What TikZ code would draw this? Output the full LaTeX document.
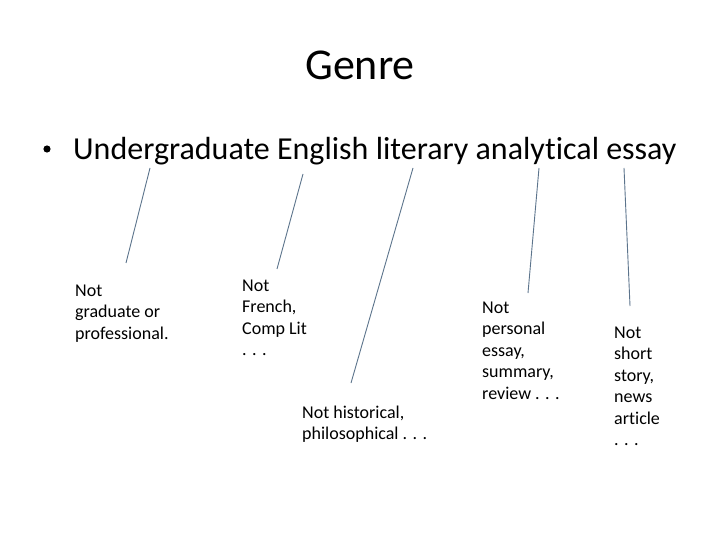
\documentclass[tikz,border=0pt]{standalone}
\usepackage{fontspec}
\setmainfont[Ligatures={NoCommon,NoContextual}]{Carlito}
\definecolor{linkcol}{RGB}{92,116,140}
\begin{document}
\begin{tikzpicture}[x=1pt,y=-1pt,
  conn/.style={draw=linkcol, line width=0.9pt},
  lbl/.style={anchor=north west, inner sep=0pt, align=left,
    font=\fontsize{18}{21.5}\selectfont}]
\useasboundingbox[fill=white] (0,0) rectangle (720,540);
\node[anchor=base, inner sep=0pt, font=\fontsize{44}{50}\selectfont] (title) at (360,80) {Genre};
\node[anchor=base west, inner sep=0pt, font=\fontsize{32}{38}\selectfont] (essay) at (73,160) {Undergraduate English literary analytical essay};
\fill (47,149) circle (3.6pt);
\node[lbl] (a) at (75,284.4) {Not\\graduate or\\professional.};
\node[lbl] (b) at (242,279.4) {Not\\French,\\Comp Lit\\. . .};
\node[lbl] (c) at (302,405.4) {Not historical,\\philosophical . . .};
\node[lbl] (d) at (482,301.4) {Not\\personal\\essay,\\summary,\\review . . .};
\node[lbl] (e) at (614,326.4) {Not\\short\\story,\\news\\article\\. . .};
\coordinate (s1) at (150,168); \coordinate (t1) at (126,263);
\coordinate (s2) at (303,174); \coordinate (t2) at (277,269);
\coordinate (s3) at (413,168); \coordinate (t3) at (351,383);
\coordinate (s4) at (539,168); \coordinate (t4) at (528,293);
\coordinate (s5) at (624,168); \coordinate (t5) at (630,306);
\draw[conn] (s1) -- (t1);
\draw[conn] (s2) -- (t2);
\draw[conn] (s3) -- (t3);
\draw[conn] (s4) -- (t4);
\draw[conn] (s5) -- (t5);
\end{tikzpicture}
\end{document}
